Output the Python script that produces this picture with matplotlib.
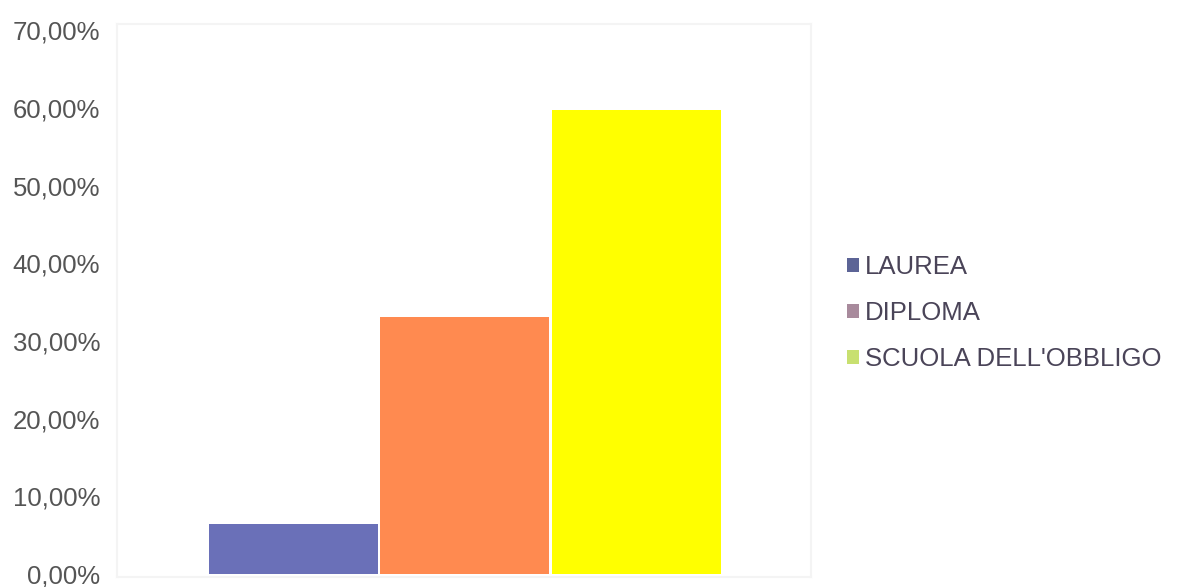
import matplotlib.pyplot as plt
from matplotlib.patches import Patch

# data
series = ["LAUREA", "DIPLOMA", "SCUOLA DELL'OBBLIGO"]
values = [6.4, 33.1, 59.7]
bar_colors = ["#6a70b8", "#ff8a50", "#ffff00"]
legend_colors = ["#5c6496", "#a88a9c", "#c8e070"]
yticks = [0, 10, 20, 30, 40, 50, 60, 70]
ytick_labels = ["0,00%", "10,00%", "20,00%", "30,00%", "40,00%", "50,00%", "60,00%", "70,00%"]

plt.rcParams['font.family'] = ['Liberation Sans', 'DejaVu Sans']

fig = plt.figure(figsize=(11.79, 5.87), dpi=100)
ax = fig.add_axes([117 / 1179, 10 / 587, 694 / 1179, 553 / 587])

offsets = [-1, 0, 1]
for off, v, c in zip(offsets, values, bar_colors):
    ax.bar(off, v, width=0.985, color=c, edgecolor="none")

ax.set_xlim(-2.03, 2.02)
ax.set_ylim(-0.4, 70.8)
ax.set_xticks([])
ax.set_yticks(yticks)
ax.set_yticklabels(ytick_labels, fontsize=18.5, color="#555555")
ax.tick_params(axis="y", length=0, pad=12)
for s in ax.spines.values():
    s.set_color("#f4f4f4")
    s.set_linewidth(1.5)

handles = [Patch(facecolor=c, edgecolor="none") for c in legend_colors]
fig.legend(handles, series, loc="center left", bbox_to_anchor=(824 / 1179, 1 - 313 / 587),
           frameon=False, fontsize=18.5, handlelength=0.45, handleheight=0.45,
           handletextpad=0.25, labelspacing=0.85, labelcolor="#4a4458")

fig.savefig("out.png", dpi=100)
